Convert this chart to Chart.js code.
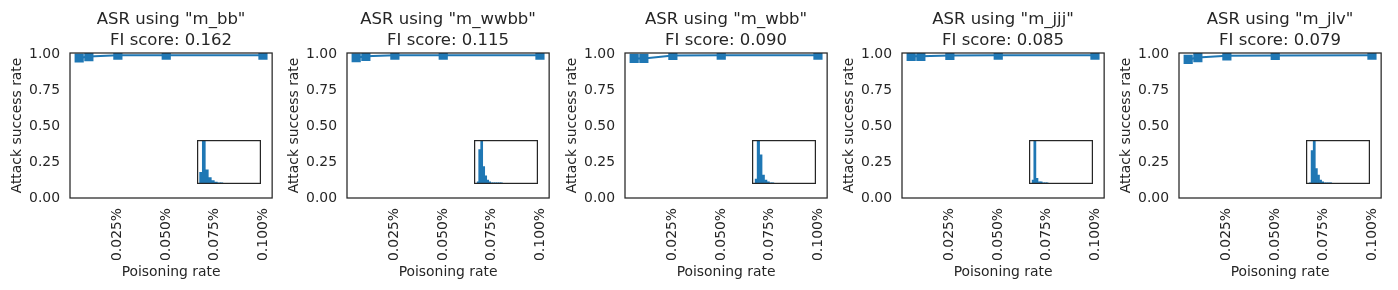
<!DOCTYPE html>
<html>
<head>
<meta charset="utf-8">
<script src="https://cdn.jsdelivr.net/npm/chart.js@4/dist/chart.umd.min.js"></script>
<style>
  html, body { margin: 0; padding: 0; background: #fff; }
  #wrap { position: relative; width: 1398px; height: 290px; overflow: hidden; }
  canvas { position: absolute; }
</style>
</head>
<body>
<div id="wrap"></div>
<script>
// ---- data ----
const featureNames = ["m_bb", "m_wwbb", "m_wbb", "m_jjj", "m_jlv"];
const fiScores = ["0.162", "0.115", "0.090", "0.085", "0.079"];
const poisonRates = [0.005, 0.01, 0.025, 0.05, 0.1];

const asrBb = [0.975, 0.985, 0.995, 0.995, 0.995];
const asrWwbb = [0.977, 0.987, 0.995, 0.995, 0.995];
const asrWbb = [0.972, 0.972, 0.993, 0.995, 0.995];
const asrJjj = [0.987, 0.987, 0.993, 0.995, 0.995];
const asrJlv = [0.965, 0.978, 0.99, 0.993, 0.995];

const xTickValues = [0.025, 0.05, 0.075, 0.1];
const yTickValues = [0, 0.25, 0.5, 0.75, 1];

// inset histograms (relative bar heights)
const histBb = [0.26, 1.0, 0.32, 0.14, 0.064, 0.032, 0.016, 0.016];
const histWwbb = [0.04, 0.8, 1.0, 0.4, 0.18, 0.08, 0.04, 0.016, 0.016, 0.016, 0.016, 0.016, 0.016];
const histWbb = [0.1, 1.0, 0.68, 0.2, 0.08, 0.04, 0.016, 0.016];
const histJjj = [0.08, 1.0, 0.12, 0.04, 0.04, 0.016, 0.016, 0.016];
const histJlv = [0.016, 0.78, 1.0, 0.35, 0.2, 0.08, 0.04, 0.016, 0.016, 0.016, 0.016];

const asrSeries = [asrBb, asrWwbb, asrWbb, asrJjj, asrJlv];
const histSeries = [histBb, histWwbb, histWbb, histJjj, histJlv];

// ---- look ----
const BLUE = "#1f77b4";
const INK = "#262626";
const FONT = '"DejaVu Sans", sans-serif';
const PANEL_STEP = 277.3;
const Y_AXIS_W = 70;
const AXES_W = 212;
const INSET_W = 64;
const INSET_H = 44;
const histBinPx = [3.0, 2.0, 2.45, 2.1, 2.1];
const histLeftPx = [2.3, 2.7, 2.7, 2.7, 3.0];

const wrap = document.getElementById("wrap");

const frame = {
  id: "frame",
  beforeDraw(chart, args, opts) {
    if (opts.fill) {
      chart.ctx.save();
      chart.ctx.fillStyle = "#fff";
      chart.ctx.fillRect(0, 0, chart.width, chart.height);
      chart.ctx.restore();
    }
  },
  afterDraw(chart, args, opts) {
    const { ctx, chartArea: a } = chart;
    ctx.save();
    ctx.strokeStyle = INK;
    ctx.lineWidth = 1.25;
    if (opts.full) {
      ctx.strokeRect(0.6, 0.6, chart.width - 1.2, chart.height - 1.2);
    } else {
      ctx.strokeRect(a.left, a.top, a.right - a.left, a.bottom - a.top);
    }
    if (opts.title) {
      ctx.fillStyle = INK;
      ctx.font = "16.5px " + FONT;
      ctx.textAlign = "center";
      ctx.textBaseline = "alphabetic";
      const cx = (a.left + a.right) / 2;
      ctx.fillText(opts.title[0], cx, 24);
      ctx.fillText(opts.title[1], cx, 45);
    }
    ctx.restore();
  },
};

function makeCanvas(left, top, w, h) {
  const c = document.createElement("canvas");
  c.width = w;
  c.height = h;
  c.style.left = left + "px";
  c.style.top = top + "px";
  c.style.width = w + "px";
  c.style.height = h + "px";
  wrap.appendChild(c);
  return c;
}

featureNames.forEach((name, i) => {
  const left = Math.round(i * PANEL_STEP);
  const canvas = makeCanvas(left, 0, 290, 290);
  const tickFont = { family: FONT, size: 13.9 };

  new Chart(canvas, {
    type: "line",
    data: {
      datasets: [
        {
          data: poisonRates.map((x, k) => ({ x, y: asrSeries[i][k] })),
          borderColor: BLUE,
          backgroundColor: BLUE,
          borderWidth: 2,
          pointStyle: "rect",
          pointRadius: 6.5,
          pointBorderWidth: 0,
          clip: 0,
        },
      ],
    },
    options: {
      responsive: false,
      animation: false,
      layout: { padding: { top: 53, right: 8, left: 0, bottom: 0 } },
      plugins: {
        legend: { display: false },
        tooltip: { enabled: false },
        frame: { title: ['ASR using "' + name + '"', "FI score: " + fiScores[i]] },
      },
      scales: {
        x: {
          type: "linear",
          min: 0.00025,
          max: 0.10475,
          grid: { display: false, drawTicks: false },
          border: { display: false },
          afterBuildTicks: (s) => { s.ticks = xTickValues.map((v) => ({ value: v })); },
          afterFit: (s) => { s.height = 92; },
          ticks: {
            minRotation: 90,
            maxRotation: 90,
            padding: 10,
            color: INK,
            font: tickFont,
            callback: (v) => v.toFixed(3) + "%",
          },
          title: {
            display: true,
            text: "Poisoning rate",
            color: INK,
            font: tickFont,
            padding: { top: 0, bottom: 9 },
          },
        },
        y: {
          min: 0,
          max: 1.01,
          grid: { display: false, drawTicks: false },
          border: { display: false },
          afterBuildTicks: (s) => { s.ticks = yTickValues.map((v) => ({ value: v })); },
          afterFit: (s) => { s.width = Y_AXIS_W; },
          ticks: {
            padding: 10,
            color: INK,
            font: tickFont,
            callback: (v) => v.toFixed(2),
          },
          title: {
            display: true,
            text: "Attack success rate",
            color: INK,
            font: tickFont,
            padding: { top: 9, bottom: 0 },
          },
        },
      },
    },
    plugins: [frame],
  });

  // inset histogram
  const hist = histSeries[i];
  const barsW = hist.length * histBinPx[i];
  const inset = makeCanvas(left + Y_AXIS_W + Math.round(0.6 * AXES_W), 140, INSET_W, INSET_H);
  new Chart(inset, {
    type: "bar",
    data: {
      labels: hist.map((_, k) => String(k)),
      datasets: [
        {
          data: hist,
          backgroundColor: BLUE,
          borderWidth: 0,
          barPercentage: 1,
          categoryPercentage: 1,
        },
      ],
    },
    options: {
      responsive: false,
      animation: false,
      layout: {
        padding: {
          left: histLeftPx[i],
          right: INSET_W - histLeftPx[i] - barsW,
          top: 0,
          bottom: 0.6,
        },
      },
      plugins: {
        legend: { display: false },
        tooltip: { enabled: false },
        frame: { fill: true, full: true },
      },
      scales: {
        x: { display: false, offset: true },
        y: { display: false, min: 0, max: 1.03 },
      },
    },
    plugins: [frame],
  });
});
</script>
</body>
</html>
